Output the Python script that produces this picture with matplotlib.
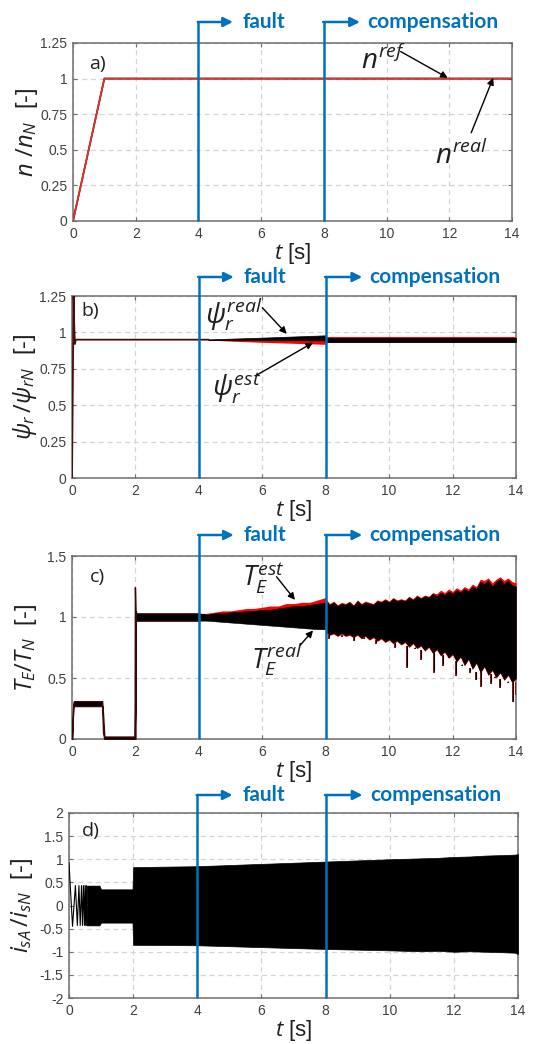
import matplotlib
matplotlib.use("Agg")
import matplotlib.pyplot as plt

plt.rcParams['font.family'] = ['Liberation Sans', 'DejaVu Sans']
plt.rcParams['mathtext.fontset'] = 'custom'
plt.rcParams['mathtext.it'] = 'Open Sans:italic'
plt.rcParams['mathtext.rm'] = 'Open Sans'
plt.rcParams['mathtext.bf'] = 'Open Sans:bold'

# ---------------- data ----------------
# a) speed
a_t = [0.0, 1.0, 14.0]
a_ref = [0.0, 1.0, 1.0]
a_real = [0.0, 1.0, 1.0]

# b) rotor flux
b_start_t = [0.0, 0.02, 0.05, 0.07, 0.09, 0.12, 4.3]
b_start_v = [0.0, 0.5, 1.25, 1.05, 0.92, 0.95, 0.95]
b_fault_t = [4.3, 5.0, 6.0, 7.0, 8.0]
b_real_hi = [0.952, 0.957, 0.964, 0.972, 0.980]
b_real_lo = [0.948, 0.947, 0.946, 0.946, 0.945]
b_est_hi = [0.952, 0.953, 0.953, 0.952, 0.952]
b_est_lo = [0.948, 0.940, 0.932, 0.925, 0.918]
b_comp_t = [8.0, 14.0]
b_comp_est_hi = [0.968, 0.968]
b_comp_est_lo = [0.930, 0.930]
b_comp_real_hi = [0.962, 0.962]
b_comp_real_lo = [0.935, 0.935]

# c) electromagnetic torque
c_start_t = [0.0, 0.04, 0.06, 0.95, 0.98, 1.02, 1.97, 2.0, 2.01, 2.03, 4.0]
c_start_hi = [0.0, 0.29, 0.31, 0.31, 0.20, 0.02, 0.02, 0.30, 1.05, 1.03, 1.03]
c_start_lo = [0.0, 0.26, 0.27, 0.27, 0.05, 0.00, 0.00, 0.00, 0.97, 0.97, 0.97]
c_kick_t = [1.99, 2.0, 2.02]
c_kick_v = [0.01, 1.24, 1.02]
c_fault_t = [4.0, 4.25, 4.5, 4.75, 5.0, 5.25, 5.5, 5.75, 6.0, 6.25, 6.5, 6.75, 7.0, 7.25, 7.5, 7.75, 8.0]
c_fault_est_hi = [1.03, 1.03, 1.04, 1.05, 1.05, 1.06, 1.07, 1.07, 1.08, 1.09, 1.09, 1.11, 1.11, 1.12, 1.12, 1.14, 1.16]
c_fault_real_hi = [1.03, 1.02, 1.03, 1.03, 1.04, 1.04, 1.05, 1.05, 1.06, 1.06, 1.07, 1.08, 1.09, 1.09, 1.10, 1.11, 1.12]
c_fault_real_lo = [0.97, 0.97, 0.965, 0.96, 0.955, 0.95, 0.945, 0.94, 0.935, 0.93, 0.925, 0.92, 0.915, 0.91, 0.905, 0.90, 0.90]
c_fault_est_lo = [0.975, 0.975, 0.97, 0.965, 0.96, 0.955, 0.95, 0.945, 0.94, 0.935, 0.93, 0.925, 0.92, 0.915, 0.91, 0.905, 0.905]
c_comp_t = [8.0, 8.125, 8.25, 8.375, 8.5, 8.625, 8.75, 8.875, 9.0, 9.125, 9.25, 9.375,
            9.5, 9.625, 9.75, 9.875, 10.0, 10.125, 10.25, 10.375, 10.5, 10.625, 10.75, 10.875,
            11.0, 11.125, 11.25, 11.375, 11.5, 11.625, 11.75, 11.875, 12.0, 12.125, 12.25, 12.375,
            12.5, 12.625, 12.75, 12.875, 13.0, 13.125, 13.25, 13.375, 13.5, 13.625, 13.75, 13.875, 14.0]
c_comp_real_hi = [1.13, 1.10, 1.12, 1.09, 1.11, 1.10, 1.12, 1.09, 1.13, 1.10, 1.12, 1.11,
                  1.10, 1.13, 1.12, 1.14, 1.12, 1.15, 1.13, 1.14, 1.13, 1.16, 1.14, 1.17,
                  1.15, 1.17, 1.16, 1.19, 1.17, 1.20, 1.18, 1.21, 1.19, 1.22, 1.20, 1.23,
                  1.21, 1.25, 1.23, 1.29, 1.27, 1.30, 1.25, 1.29, 1.31, 1.27, 1.30, 1.26, 1.25]
c_comp_est_hi = [1.15, 1.11, 1.13, 1.10, 1.12, 1.11, 1.13, 1.10, 1.14, 1.11, 1.13, 1.12,
                 1.11, 1.14, 1.13, 1.15, 1.13, 1.16, 1.14, 1.15, 1.14, 1.17, 1.15, 1.18,
                 1.16, 1.18, 1.17, 1.20, 1.19, 1.22, 1.20, 1.23, 1.21, 1.24, 1.22, 1.25,
                 1.23, 1.27, 1.25, 1.31, 1.30, 1.32, 1.28, 1.31, 1.33, 1.30, 1.32, 1.29, 1.28]
c_comp_real_lo = [0.88, 0.86, 0.87, 0.85, 0.87, 0.85, 0.86, 0.84, 0.86, 0.83, 0.85, 0.82,
                  0.84, 0.81, 0.83, 0.80, 0.82, 0.79, 0.81, 0.78, 0.80, 0.76, 0.79, 0.75,
                  0.77, 0.73, 0.76, 0.71, 0.74, 0.69, 0.72, 0.67, 0.70, 0.64, 0.68, 0.61,
                  0.66, 0.58, 0.63, 0.55, 0.60, 0.53, 0.57, 0.51, 0.55, 0.49, 0.53, 0.47, 0.50]
c_comp_est_lo = [0.87, 0.85, 0.86, 0.84, 0.86, 0.84, 0.85, 0.83, 0.85, 0.82, 0.84, 0.81,
                 0.83, 0.80, 0.82, 0.79, 0.81, 0.78, 0.80, 0.77, 0.79, 0.75, 0.78, 0.74,
                 0.76, 0.72, 0.75, 0.70, 0.73, 0.68, 0.71, 0.66, 0.69, 0.63, 0.67, 0.60,
                 0.65, 0.57, 0.62, 0.54, 0.59, 0.52, 0.56, 0.50, 0.54, 0.48, 0.52, 0.46, 0.49]
c_spike_t = [8.1, 8.5, 8.9, 9.2, 9.6, 9.9, 10.2, 10.56, 10.8, 11.0, 11.4, 11.7,
             11.9, 12.1, 12.3, 12.55, 12.75, 12.9, 13.2, 13.35, 13.5, 13.75, 13.9, 14.0]
c_spike_v = [0.82, 0.84, 0.80, 0.82, 0.78, 0.80, 0.75, 0.58, 0.74, 0.65, 0.54, 0.60,
             0.66, 0.52, 0.60, 0.54, 0.48, 0.43, 0.45, 0.50, 0.42, 0.46, 0.30, 0.36]

# d) stator phase current
d_chirp_t = [0.0, 0.11, 0.2, 0.26, 0.31, 0.35, 0.39, 0.42, 0.45, 0.48, 0.5, 0.52, 0.54, 0.56]
d_chirp_v = [0.92, -0.45, 0.43, -0.43, 0.43, -0.43, 0.43, -0.43, 0.43, -0.43, 0.43, -0.43, 0.43, -0.43]
d_env_t = [0.55, 0.95, 1.0, 1.98, 2.0, 4.0, 6.0, 8.0, 10.0, 11.0, 11.5, 12.0, 12.5, 13.0, 13.5, 13.9, 14.0]
d_env_hi = [0.43, 0.43, 0.35, 0.35, 0.83, 0.85, 0.90, 0.95, 1.00, 1.02, 1.03, 1.05, 1.06, 1.08, 1.09, 1.10, 1.11]
d_env_lo = [-0.43, -0.43, -0.37, -0.37, -0.85, -0.86, -0.90, -0.94, -0.97, -0.99, -0.98, -1.00, -0.99, -1.00, -1.01, -1.02, -1.05]

x_ticks = [0, 2, 4, 6, 8, 10, 12, 14]
a_yticks = [0, 0.25, 0.5, 0.75, 1, 1.25]
c_yticks = [0, 0.5, 1, 1.5]
d_yticks = [-2, -1.5, -1, -0.5, 0, 0.5, 1, 1.5, 2]
event_t = [4, 8]
event_labels = ['fault', 'compensation']

# ---------------- style ----------------
BLUE = '#0072BD'
RED = '#FF0000'
LINE_RED = '#E0302A'
SPINE = '#6E6E6E'
TICKC = '#404040'

fig = plt.figure(figsize=(5.47, 10.44), dpi=100)
W, H = 547, 1044
boxes = [(73, 512, 43, 221), (72, 516, 296, 478), (72, 516, 556, 739), (69, 518, 813, 998)]
axes = []
for (l, r, t, b) in boxes:
    axes.append(fig.add_axes([l / W, 1 - b / H, (r - l) / W, (b - t) / H]))


def style(ax, ylim, yticks, ylabel, tag, tagpos):
    ax.set_xlim(0, 14)
    ax.set_ylim(*ylim)
    ax.set_xticks(x_ticks)
    ax.set_yticks(yticks)
    ax.set_xticklabels([str(v) for v in x_ticks])
    ax.set_yticklabels(['%g' % v for v in yticks])
    ax.grid(True, color='#D5D5D5', linestyle=(0, (4, 3)), linewidth=0.9)
    ax.set_axisbelow(True)
    for s in ax.spines.values():
        s.set_color(SPINE)
        s.set_linewidth(1.1)
    ax.tick_params(direction='in', top=True, right=True, length=3, width=0.8,
                   color=SPINE, labelcolor=TICKC, labelsize=10, pad=4)
    ax.set_xlabel(r'$t$ [s]', fontsize=16, labelpad=0, color='#202020')
    ax.set_ylabel(ylabel, fontsize=17, color='#202020')
    ax.yaxis.set_label_coords(-0.075, 0.5)
    ax.text(tagpos[0], tagpos[1], tag, fontsize=14, family='Open Sans', color='#202020',
            ha='left', va='center')


def events(ax, hpx):
    trans = ax.get_xaxis_transform()
    yf = 1 + hpx / ax.get_window_extent().height
    tips = [5.1, 9.15]
    texts = [5.42, 9.38]
    for x0, x1, xt, lab in zip(event_t, tips, texts, event_labels):
        ax.plot([x0, x0], [0, yf], transform=trans, color=BLUE, lw=1.8,
                clip_on=False, zorder=6, solid_capstyle='butt')
        ax.annotate('', xy=(x1, yf), xytext=(x0 - 0.02, yf), xycoords=trans, textcoords=trans,
                    arrowprops=dict(arrowstyle='-|>', color=BLUE, lw=1.8, shrinkA=0, shrinkB=0,
                                    mutation_scale=14),
                    annotation_clip=False, zorder=6)
        ax.text(xt, yf, lab, transform=trans, color=BLUE, fontsize=15, family='Lato',
                fontweight='bold', ha='left', va='center')


def note(ax, text, tpos, tail, head, fs=20):
    ax.text(tpos[0], tpos[1], text, fontsize=fs, color='#202020', ha='left', va='baseline')
    ax.annotate('', xy=head, xytext=tail,
                arrowprops=dict(arrowstyle='-|>', color='black', lw=1.0, shrinkA=0, shrinkB=0,
                                mutation_scale=10), zorder=7)


# ---- a ----
ax = axes[0]
ax.plot(a_t, a_real, color='black', lw=1.2, zorder=3)
ax.plot(a_t, a_ref, color=LINE_RED, lw=1.3, zorder=4)
style(ax, (0, 1.25), a_yticks, r'$n\ /n_N$  [-]', 'a)', (0.5, 1.1))
note(ax, r'$n^{ref}$', (9.2, 1.07), (10.45, 1.19), (11.95, 1.005))
note(ax, r'$n^{real}$', (11.55, 0.4), (12.7, 0.62), (13.4, 1.005))
events(ax, 21)

# ---- b ----
ax = axes[1]
ax.plot(b_start_t, b_start_v, color='#4A0C0C', lw=1.3, zorder=3)
ax.fill_between(b_fault_t, b_est_lo, b_est_hi, color=RED, lw=0, zorder=3)
ax.fill_between(b_fault_t, b_real_lo, b_real_hi, color='black', lw=0.5, zorder=4)
ax.fill_between(b_comp_t, b_comp_est_lo, b_comp_est_hi, color=RED, lw=0, zorder=3)
ax.fill_between(b_comp_t, b_comp_real_lo, b_comp_real_hi, color='black', lw=0.5, zorder=4)
style(ax, (0, 1.25), a_yticks, r'$\psi_r\,/\psi_{rN}$  [-]', 'b)', (0.3, 1.15))
note(ax, r'$\psi_r^{real}$', (4.2, 1.06), (6.0, 1.17), (6.77, 0.99))
note(ax, r'$\psi_r^{est}$', (4.4, 0.56), (5.85, 0.71), (7.6, 0.93))
events(ax, 19)

# ---- c ----
ax = axes[2]
ax.fill_between(c_start_t, c_start_lo, c_start_hi, color='black', edgecolor='#3A0808', lw=1.0, zorder=3)
ax.plot(c_kick_t, c_kick_v, color='#3A0808', lw=1.0, zorder=3)
ax.fill_between(c_fault_t, c_fault_est_lo, c_fault_est_hi, color=RED, lw=0, zorder=3)
ax.fill_between(c_fault_t, c_fault_real_lo, c_fault_real_hi, color='black', lw=0.4, zorder=4)
ax.fill_between(c_comp_t, c_comp_est_lo, c_comp_est_hi, color=RED, lw=0, zorder=3)
ax.fill_between(c_comp_t, c_comp_real_lo, c_comp_real_hi, color='black', lw=0.4, zorder=4)
lo_at_spike = [min(c_comp_real_lo[i] for i in range(len(c_comp_t)) if abs(c_comp_t[i] - s) < 0.13)
               for s in c_spike_t]
ax.vlines(c_spike_t, c_spike_v, lo_at_spike, color='#8A1010', lw=1.4, zorder=3)
ax.vlines(c_spike_t, [v + 0.015 for v in c_spike_v], lo_at_spike, color='black', lw=0.8, zorder=4)
style(ax, (0, 1.5), c_yticks, r'$T_E/T_N$  [-]', 'c)', (0.55, 1.33))
note(ax, r'$T_E^{est}$', (5.35, 1.25), (6.45, 1.33), (7.03, 1.14))
note(ax, r'$T_E^{real}$', (5.65, 0.58), (7.2, 0.77), (7.6, 0.89))
events(ax, 21)

# ---- d ----
ax = axes[3]
ax.plot(d_chirp_t, d_chirp_v, color='black', lw=0.8, zorder=3)
ax.fill_between(d_env_t, d_env_lo, d_env_hi, color='black', lw=0.5, zorder=3)
style(ax, (-2, 2), d_yticks, r'$i_{sA}\,/i_{sN}$  [-]', 'd)', (0.4, 1.62))
events(ax, 18)

fig.savefig('out.png', dpi=100)
